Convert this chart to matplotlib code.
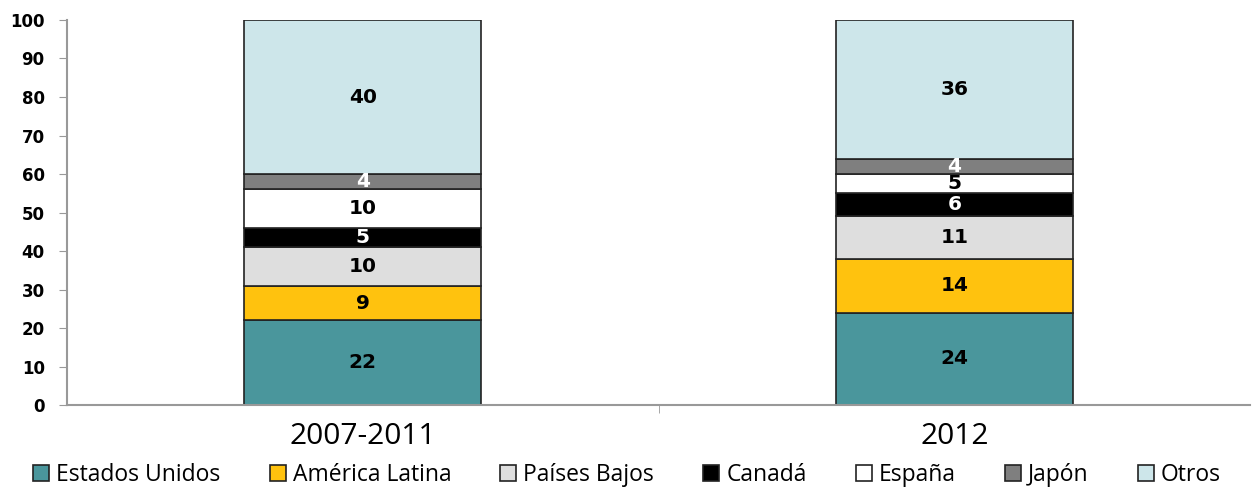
import numpy as np
import matplotlib
matplotlib.use('Agg')
import matplotlib.pyplot as plt
from matplotlib.patches import Patch

periodos = ['2007-2011', '2012']
series = ['Estados Unidos', 'América Latina', 'Países Bajos', 'Canadá', 'España', 'Japón', 'Otros']
valores = [
    [22, 24],
    [9, 14],
    [10, 11],
    [5, 6],
    [10, 5],
    [4, 4],
    [40, 36],
]
colores = ['#4a969c', '#ffc20e', '#dedede', '#000000', '#ffffff', '#7f7f7f', '#cde6ea']
color_texto = ['black', 'black', 'black', 'white', 'black', 'white', 'black']

fig = plt.figure(figsize=(12.54, 4.87), dpi=100)
ax = fig.add_axes([0.0534, 0.168, 0.9436, 0.791])

x = np.arange(len(periodos))
base = np.zeros(len(periodos))
for nombre, vals, col, tc in zip(series, valores, colores, color_texto):
    vals = np.array(vals, dtype=float)
    ax.bar(x, vals, 0.4, bottom=base, color=col, edgecolor='#222222', linewidth=1.2)
    for xi, b, v in zip(x, base, vals):
        ax.text(xi, b + v / 2, '%d' % v, ha='center', va='center',
                fontsize=14.5, fontweight='bold', color=tc, family='DejaVu Sans')
    base += vals

ax.set_xlim(-0.5, 1.5)
ax.set_ylim(0, 100)
ax.set_yticks(range(0, 101, 10))
ax.set_xticks(x)
ax.set_xticklabels(periodos, fontsize=21.5, family='Open Sans')
ax.set_xticks([0.5], minor=True)
ax.tick_params(axis='x', which='major', length=0, pad=12)
ax.tick_params(axis='x', which='minor', length=6, color='#999999', direction='out')
ax.tick_params(axis='y', length=6, color='#999999', direction='out', pad=10)
for lbl in ax.get_yticklabels():
    lbl.set_fontweight('bold')
    lbl.set_fontsize(12)
    lbl.set_family('DejaVu Sans')
for s in ['top', 'right']:
    ax.spines[s].set_visible(False)
for s in ['left', 'bottom']:
    ax.spines[s].set_color('#999999')
    ax.spines[s].set_linewidth(1.5)

handles = [Patch(facecolor=c, edgecolor='#222222', linewidth=1.2, label=n) for n, c in zip(series, colores)]
fig.legend(handles=handles, loc='center', bbox_to_anchor=(0.5, 0.024), ncol=7, frameon=False,
           prop={'family': 'Open Sans', 'size': 16.5}, handlelength=0.7, handleheight=0.7,
           handletextpad=0.3, columnspacing=2.15, borderpad=0)

fig.savefig('out.png', dpi=100)
